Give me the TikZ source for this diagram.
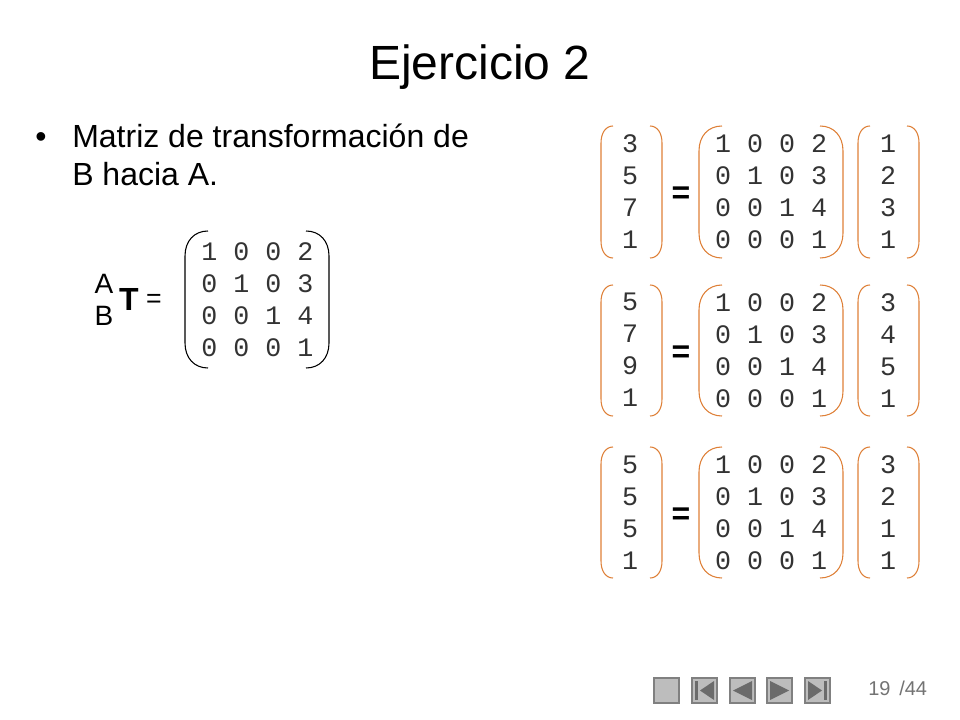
\documentclass[tikz,border=0pt]{standalone}
\usepackage{fontspec}
\setmainfont{Liberation Sans}
\newfontfamily\digitfont{Liberation Mono}
\usepackage{xcolor}
\definecolor{bracketorange}{rgb}{0.87, 0.50, 0.22}
\definecolor{navfill}{gray}{0.74}
\definecolor{navedge}{gray}{0.5}
\definecolor{navicon}{gray}{0.42}
\tikzstyle{digits} = [inner sep=0pt, align=center, font=\digitfont\fontsize{20}{24}\selectfont, text=black!80]
\tikzstyle{eqsign} = [inner sep=0pt, font=\bfseries\fontsize{24}{24}\selectfont]
\tikzstyle{bodytext} = [anchor=base west, inner sep=0pt, font=\fontsize{24}{24}\selectfont]
\tikzstyle{navbtn} = [draw=navedge, fill=navfill, line width=0.8pt]
\tikzstyle{navtip} = [fill=navicon, draw=none]
\def\parens(#1,#2,#3,#4,#5,#6){%
\draw[line width=0.8pt] (#1+#5,#3) .. controls (#1+0.4*#5,#3) and (#1,#3+0.4*#6) .. (#1,#3+#6) -- (#1,#4-#6) .. controls (#1,#4-0.4*#6) and (#1+0.4*#5,#4) .. (#1+#5,#4);
\draw[line width=0.8pt] (#2-#5,#3) .. controls (#2-0.4*#5,#3) and (#2,#3+0.4*#6) .. (#2,#3+#6) -- (#2,#4-#6) .. controls (#2,#4-0.4*#6) and (#2-0.4*#5,#4) .. (#2-#5,#4);
}
\begin{document}
\begin{tikzpicture}[x=0.75pt,y=-0.75pt]
\useasboundingbox (0,0) rectangle (960,720);
\node (title) at (480,67) {\fontsize{36}{36}\selectfont Ejercicio 2};
\node (dot) [anchor=base] at (41,148) {\fontsize{24}{24}\selectfont •};
\node (line1) [bodytext] at (72,148) {Matriz de transformación de};
\node (line2) [bodytext] at (72,186) {B hacia A.};
% left matrix
\node (a) at (104,283.5) {\fontsize{21}{21}\selectfont A};
\node (b) at (104,316) {\fontsize{21}{21}\selectfont B};
\node (t) at (129,299) {\bfseries\fontsize{24}{24}\selectfont T};
\node (eq0) at (154,301) {\fontsize{20}{20}\selectfont =};
\node (m0) [digits] at (257.5,300) {1 0 0 2\\0 1 0 3\\0 0 1 4\\0 0 0 1};
\parens(185,329,231,368,23,25)
% first product
\node (l1) [digits] at (630,192) {3\\5\\7\\1};
\node (eq1) [eqsign] at (681,195) {=};
\node (m1) [digits] at (771,192) {1 0 0 2\\0 1 0 3\\0 0 1 4\\0 0 0 1};
\node (r1) [digits] at (888,192) {1\\2\\3\\1};
\begin{scope}[bracketorange]
\parens(601,662,126,258,12,17)
\parens(699,843,126,258,23,25)
\parens(858,919,126,258,12,17)
\end{scope}
% second product
\node (l2) [digits] at (630,350) {5\\7\\9\\1};
\node (eq2) [eqsign] at (681,354) {=};
\node (m2) [digits] at (771,351) {1 0 0 2\\0 1 0 3\\0 0 1 4\\0 0 0 1};
\node (r2) [digits] at (888,351) {3\\4\\5\\1};
\begin{scope}[bracketorange]
\parens(601,662,285,416,12,17)
\parens(699,843,285,416,23,25)
\parens(858,919,285,416,12,17)
\end{scope}
% third product
\node (l3) [digits] at (630,513) {5\\5\\5\\1};
\node (eq3) [eqsign] at (681,516) {=};
\node (m3) [digits] at (771,513) {1 0 0 2\\0 1 0 3\\0 0 1 4\\0 0 0 1};
\node (r3) [digits] at (888,513) {3\\2\\1\\1};
\begin{scope}[bracketorange]
\parens(601,662,447,578,12,17)
\parens(699,843,447,578,23,25)
\parens(858,919,447,578,12,17)
\end{scope}
% navigation
\foreach \x in {654,692,730,767,805}
\draw[navbtn] (\x,678) rectangle ++(25,25);
\fill[navtip] (695,681) rectangle (698,700);
\fill[navtip] (714,681) -- (714,700) -- (700,690.5) -- cycle;
\fill[navtip] (752,681) -- (752,700) -- (733,690.5) -- cycle;
\fill[navtip] (770,681) -- (770,700) -- (789,690.5) -- cycle;
\fill[navtip] (808,681) -- (808,700) -- (822,690.5) -- cycle;
\fill[navtip] (824,681) rectangle (827,700);
\node (page) [anchor=base west, inner sep=0pt, text=black!55] at (868,695) {\fontsize{15}{15}\selectfont 19};
\node (total) [anchor=base west, inner sep=0pt, text=black!55] at (899,695) {\fontsize{15}{15}\selectfont /44};
\end{tikzpicture}
\end{document}
